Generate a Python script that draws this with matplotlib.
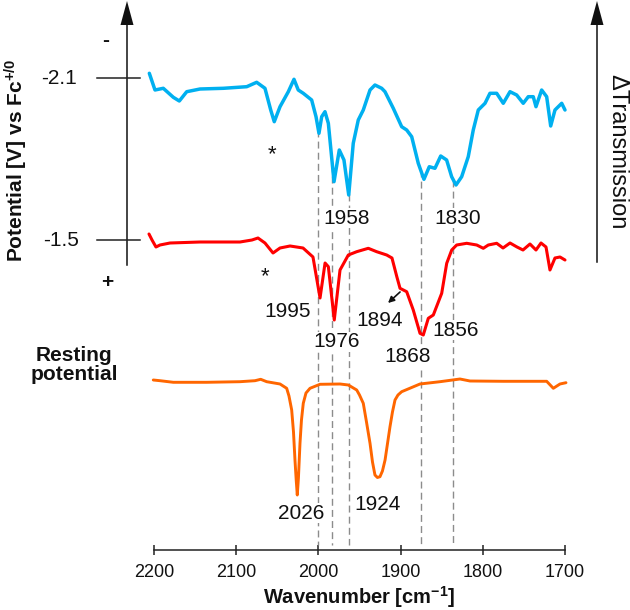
import numpy as np
import matplotlib
matplotlib.use("Agg")
import matplotlib.pyplot as plt
from matplotlib.lines import Line2D
from matplotlib.patches import Polygon

plt.rcParams['font.family'] = ['Liberation Sans', 'DejaVu Sans']
plt.rcParams['mathtext.fontset'] = 'custom'
plt.rcParams['mathtext.rm'] = 'Liberation Sans'
plt.rcParams['mathtext.bf'] = 'Liberation Sans:bold'
plt.rcParams['mathtext.it'] = 'Liberation Sans:italic'

# ---------------- data (wavenumber in cm-1, transmission change in arbitrary units) ----------------
blue_wn = [2205.7, 2198.8, 2188.7, 2176.5, 2169.2, 2160.2, 2144.0, 2115.7, 2087.2, 2075.1,
           2065.0, 2058.0, 2053.7, 2046.7, 2036.6, 2029.7, 2024.5, 2018.4, 2008.2, 2002.9,
           1999.3, 1996.0, 1992.0, 1987.9, 1981.0, 1974.6, 1968.9, 1963.1, 1957.6, 1951.5,
           1945.4, 1937.2, 1931.2, 1923.0, 1919.0, 1908.9, 1898.7, 1892.6, 1886.5, 1878.5,
           1871.6, 1865.1, 1858.2, 1851.2, 1844.0, 1837.9, 1832.6, 1825.7, 1817.7, 1811.6,
           1805.5, 1797.3, 1791.3, 1783.1, 1775.1, 1766.9, 1758.8, 1750.8, 1744.7, 1738.6,
           1735.3, 1728.4, 1722.3, 1717.4, 1712.2, 1704.0, 1700.0]
blue_dT = [16.7, 0, 1.7, -7.3, -11, -1.7, 1, 1.7, 3.3, 7.7,
           1.7, -20, -31.7, -16.7, -1.7, 10.7, 0, -3.3, -10, -26.7,
           -43.3, -26.7, -21.7, -33.3, -91.7, -60, -70, -105, -53.3, -30,
           -20, 0, 5, 1.7, -1.7, -18.3, -36.7, -40, -46.7, -73.3,
           -89.3, -76.7, -78.3, -66, -70, -86.7, -95, -86.7, -66.7, -40,
           -20, -13.3, -3.3, -3.3, -13.3, -1.7, -5, -13.3, -6.7, -6.7,
           -16.7, 0, -6.7, -36, -20, -13.3, -20]

red_wn = [2206.1, 2202.4, 2197.6, 2192.7, 2180.5, 2144.0, 2095.4, 2080.8, 2073.5, 2065.0,
          2055.2, 2046.7, 2034.5, 2018.7, 2006.6, 1998.0, 1991.9, 1987.9, 1980.7, 1973.7,
          1963.6, 1953.4, 1939.3, 1929.1, 1916.9, 1910.5, 1904.6, 1900.7, 1892.6, 1884.6,
          1876.4, 1872.4, 1866.3, 1860.2, 1850.0, 1843.9, 1837.8, 1831.8, 1819.6, 1807.4,
          1799.4, 1793.3, 1783.1, 1775.4, 1766.9, 1758.4, 1751.1, 1742.6, 1735.3, 1729.2,
          1723.1, 1718.3, 1712.2, 1706.1, 1700.0]
red_dT = [11, 5, -2, 0, 2, 3, 3, 5, 7, 2,
          -8, -3, -1, -3, -12, -53, -18, -21.7, -75, -25,
          -10, -6.7, -3.3, -6.7, -10, -13, -31.7, -43.3, -46.7, -65,
          -88.3, -90, -73.3, -70, -48.3, -18.3, -5, 0, 1.7, 0,
          -3.3, 0, 1.7, -3, 2, -2, -5, 1, -5, 2,
          -2, -25, -13, -12, -15]

orange_wn = [2200.9, 2192.7, 2176.5, 2135.9, 2095.4, 2077.1, 2070.2, 2062.9, 2046.7, 2038.6,
             2035.8, 2032.5, 2030.3, 2028.5, 2027.0, 2025.7, 2024.3, 2022.4, 2020.6, 2018.4,
             2015.1, 2010.2, 1998.1, 1973.7, 1963.6, 1953.4, 1950.0, 1945.4, 1941.5, 1937.2,
             1934.2, 1931.2, 1928.2, 1925.1, 1922.1, 1918.9, 1912.9, 1909.9, 1906.8, 1903.2,
             1898.7, 1876.4, 1852.1, 1827.8, 1815.6, 1775.1, 1722.3, 1714.2, 1706.1, 1698.8]
orange_dT = [2, 1.3, -0.3, -0.3, 0.3, 1.3, 2.7, 0.3, -2, -6.3,
             -14, -28, -50, -78, -98, -113, -96, -61.3, -38, -21.3,
             -11, -6.3, -2.3, -2, -3, -8, -13, -21.3, -40, -61.3,
             -80, -93, -95.5, -94.7, -89, -78, -44.7, -30, -18, -13,
             -9.7, -2, 0.3, 3, 1, 0.7, 0.7, -6.3, -2, -0.7]

marker_wn = [2000, 1983, 1963, 1875.5, 1836]          # dashed guide lines
peak_labels = ['1958', '1830', '1995', '1976', '1894', '1856', '1868', '2026', '1924']
potential_labels = ['-2.1', '-1.5']
xticks = [2200, 2100, 2000, 1900, 1800, 1700]

# ---------------- layout / style ----------------
W, H = 630, 610
BLUE, RED, ORANGE = '#00B0F0', '#FF0000', '#FF6600'
offsets = {'blue': 460, 'red': 305, 'orange': 168}

fig = plt.figure(figsize=(W / 100, H / 100), dpi=100)
ax = fig.add_axes([154 / W, 60 / H, 411 / W, 550 / H])
ax.set_xlim(2200, 1700)
ax.set_ylim(0, 550)

def fx(px):
    return px / W

def fy(py):
    return 1 - py / H

blue_y = np.array(blue_dT) + offsets['blue']
red_y = np.array(red_dT) + offsets['red']
orange_y = np.array(orange_dT) + offsets['orange']

ax.plot(blue_wn, blue_y, color=BLUE, lw=2.5, clip_on=False, zorder=5,
        solid_joinstyle='round', solid_capstyle='round')
ax.plot(red_wn, red_y, color=RED, lw=2.2, clip_on=False, zorder=5,
        solid_joinstyle='round', solid_capstyle='round')
ax.plot(orange_wn, orange_y, color=ORANGE, lw=2.1, clip_on=False, zorder=5,
        solid_joinstyle='round', solid_capstyle='round')

# dashed guide lines, starting at the blue curve
tops = np.interp(marker_wn, blue_wn[::-1], blue_y[::-1])
for w, t in zip(marker_wn, tops):
    ax.plot([w, w], [t, 5], color='#8c8c8c', lw=1.0, dashes=(5, 3), zorder=2)

# peak labels
label_pos = [(1965.6, 332), (1830.8, 332), (2037.0, 238.3), (1977.7, 208.3), (1925.1, 230),
             (1832.6, 220), (1891.0, 193.3), (2021.2, 36.7), (1927.5, 45)]
for txt, (x, y) in zip(peak_labels, label_pos):
    ax.text(x, y, txt, ha='center', va='center', fontsize=15, color='#111111', zorder=4,
            bbox=dict(fc='white', ec='none', pad=0.5))

# asterisks
ax.text(2056.1, 390, '*', ha='center', va='baseline', fontsize=16, color='#111111', zorder=4)
ax.text(2065.0, 268, '*', ha='center', va='baseline', fontsize=16, color='#111111', zorder=4)

# small arrow to shoulder
ax.annotate('', xy=(1915.3, 247), xytext=(1900.7, 258),
            arrowprops=dict(arrowstyle='-|>', color='#111111', lw=1.2,
                            mutation_scale=9, shrinkA=0, shrinkB=0), zorder=4)

# x axis
for s in ['left', 'right', 'top']:
    ax.spines[s].set_visible(False)
ax.spines['bottom'].set_linewidth(1.1)
ax.spines['bottom'].set_color('#222222')
ax.set_yticks([])
ax.set_xticks(xticks)
ax.set_xticklabels([str(v) for v in xticks])
ax.tick_params(axis='x', direction='inout', length=7, width=1.1, color='#222222',
               labelsize=13, pad=6.5, labelcolor='#111111')
ax.patch.set_alpha(0)

fig.text(fx(359.5), fy(597), r'$\mathbf{Wavenumber\ [cm^{-1}]}$', ha='center', va='center',
         fontsize=14.5, color='#111111')

# left potential axis and right transmission axis (figure pixels)
def vline_arrow(px, py_bottom, py_tip, head_len=24, head_half=6.5):
    fig.add_artist(Line2D([fx(px), fx(px)], [fy(py_bottom), fy(py_tip + head_len - 2)],
                          transform=fig.transFigure, color='#111111', lw=1.1))
    fig.add_artist(Polygon([(fx(px - head_half), fy(py_tip + head_len)),
                            (fx(px), fy(py_tip)),
                            (fx(px + head_half), fy(py_tip + head_len))],
                           closed=True, transform=fig.transFigure, fc='#111111', ec='none'))

vline_arrow(127, 265, 1)
vline_arrow(597, 262, 1)

for lab, py, cx in zip(potential_labels, [78, 240], [58.5, 61]):
    fig.add_artist(Line2D([fx(97), fx(140)], [fy(py), fy(py)], transform=fig.transFigure,
                          color='#222222', lw=1.1))
    fig.text(fx(cx), fy(py), lab, ha='center', va='center', fontsize=15, color='#111111')

fig.text(fx(106), fy(40), '-', ha='center', va='center', fontsize=15, fontweight='bold', color='#111111')
fig.text(fx(107), fy(282), '+', ha='center', va='center', fontsize=15, fontweight='bold', color='#111111')

fig.text(fx(16), fy(160), r'$\mathbf{Potential\ [V]\ vs\ Fc^{+/0}}$', rotation=90,
         ha='center', va='center', fontsize=15, color='#111111')

fig.text(fx(74), fy(365), 'Resting\npotential', ha='center', va='center', fontsize=15,
         fontweight='bold', color='#111111', linespacing=1.05)

fig.text(fx(617), fy(152), '\u0394Transmission', rotation=-90, ha='center', va='center',
         fontsize=17, color='#111111')

fig.savefig('out.png', dpi=100)
